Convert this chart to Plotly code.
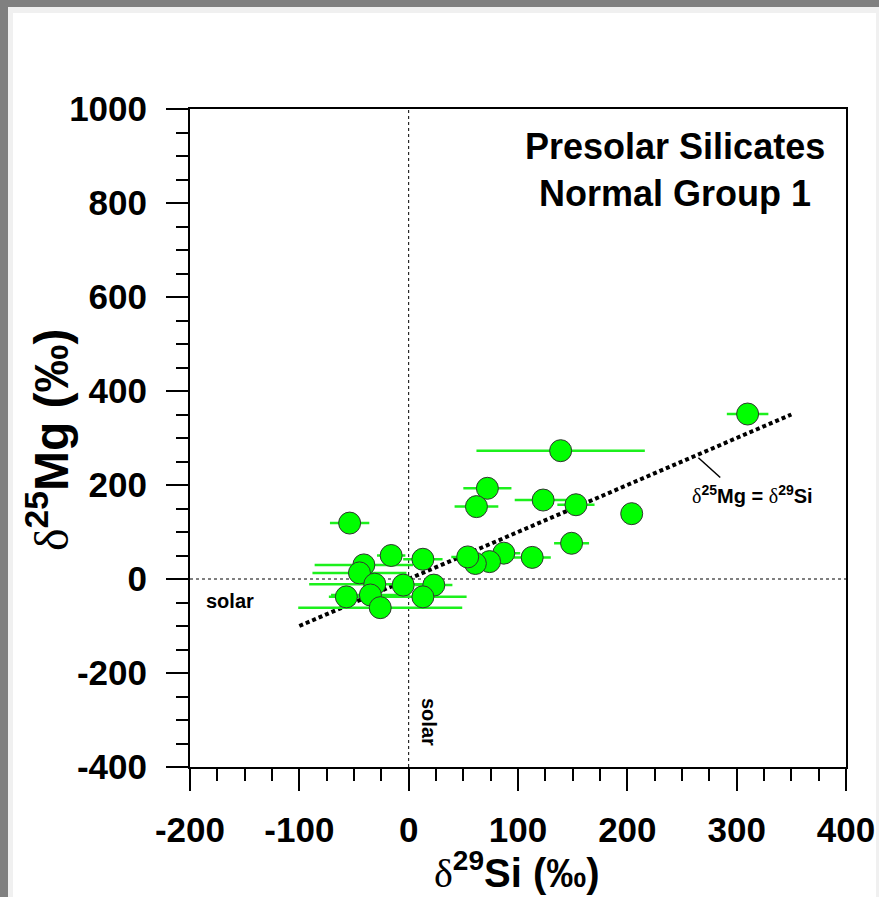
import plotly.graph_objects as go

# Presolar silicate grains, normal group 1 (per-mil deviations from solar)
si29 = [310, 139, 72, 62, 123, 153, 204, 149, -54, 113, 87, 74, 61, 54,
        23, 13, -16, -41, -45, -31, -5, -57, -35, 13, -26]
mg25 = [351, 273, 193, 154, 168, 158, 139, 76, 119, 46, 55, 37, 33, 47,
        -13, 42, 50, 30, 13, -11, -13, -38, -34, -38, -61]
si29_err = [19, 77, 22, 20, 26, 17, 0, 16, 18, 17, 15, 12, 10, 15,
            17, 18, 13, 45, 43, 60, 10, 16, 36, 40, 75]

# 1:1 reference line
ref_x = [-100, 350]
ref_y = [-100, 350]

x_range = [-200, 400]
y_range = [-400, 1000]
x_ticks = [-200, -100, 0, 100, 200, 300, 400]
y_ticks = [-400, -200, 0, 200, 400, 600, 800, 1000]

W, H = 879, 897
L, R, T, B = 190, 846, 109, 767
SANS = "Arial, 'Liberation Sans', sans-serif"
SERIF = "'Liberation Serif', 'Times New Roman', serif"


def delta(mass, elem):
    return (f'<span style="font-family:{SERIF};font-weight:normal">δ</span>'
            f"<sup>{mass}</sup>{elem}")


fig = go.Figure()

fig.add_trace(go.Scatter(
    x=ref_x, y=ref_y, mode="lines",
    line=dict(color="black", width=4, dash="4px,3px"),
    hoverinfo="skip", showlegend=False,
))

fig.add_trace(go.Scatter(
    x=si29, y=mg25, mode="markers",
    error_x=dict(type="data", array=si29_err, visible=True,
                 color="#1cf01c", thickness=2.5, width=0),
    marker=dict(size=22, color="#00ff00",
                line=dict(color="#333333", width=1)),
    showlegend=False,
))

# solar reference lines
fig.add_shape(type="line", xref="x", yref="y", x0=x_range[0], x1=x_range[1],
              y0=0, y1=0, line=dict(color="black", width=1, dash="dot"),
              layer="below")
fig.add_shape(type="line", xref="x", yref="y", x0=0, x1=0,
              y0=y_range[0], y1=y_range[1],
              line=dict(color="black", width=1, dash="dot"), layer="below")

# leader line for the 1:1 label
fig.add_shape(type="line", xref="x", yref="y", x0=265, y0=258, x1=285, y1=216,
              line=dict(color="black", width=1.5))


def px_x(p):
    return (p - L) / (R - L)


def px_y(p):
    return (B - p) / (B - T)


# window frame around the figure
frame = [
    (0, W, 0, 13, "#f0f0f0"),
    (0, 13, 0, H, "#f0f0f0"),
    (876, W, 0, H, "#f0f0f0"),
    (0, W, 0, 7, "#808080"),
    (0, 8, 0, H, "#808080"),
]
for x0, x1, y0, y1, c in frame:
    fig.add_shape(type="rect", xref="paper", yref="paper",
                  x0=px_x(x0), x1=px_x(x1), y0=px_y(y0), y1=px_y(y1),
                  fillcolor=c, line=dict(width=0), layer="above")

annotations = [
    dict(text="Presolar Silicates<br>Normal Group 1", x=px_x(675), y=px_y(170),
         font=dict(size=36, family=SANS, weight="bold", color="black")),
    dict(text=f"{delta(25, 'Mg')} = {delta(29, 'Si')}", x=px_x(752), y=px_y(495),
         font=dict(size=20, family=SANS, weight="bold", color="black")),
    dict(text="solar", x=px_x(230), y=px_y(601),
         font=dict(size=20, family=SANS, weight="bold", color="black")),
    dict(text="solar", x=px_x(429), y=px_y(722), textangle=90,
         font=dict(size=20, family=SANS, weight="bold", color="black")),
    dict(text=f"{delta(29, 'Si')} (‰)", x=px_x(517), y=px_y(870),
         font=dict(size=40, family=SANS, weight="bold", color="black")),
    dict(text=f"{delta(25, 'Mg')} (‰)", x=px_x(48), y=px_y(440), textangle=-90,
         font=dict(size=48, family=SANS, weight="bold", color="black")),
]
for a in annotations:
    a.update(xref="paper", yref="paper", showarrow=False,
             xanchor="center", yanchor="middle")

axis_common = dict(
    showline=True, linecolor="black", linewidth=2, mirror=True,
    showgrid=False, zeroline=False, automargin=False,
    ticks="outside", ticklen=22, tickwidth=2, tickcolor="black",
    tickfont=dict(size=35, family=SANS, weight="bold", color="black"),
)

fig.update_layout(
    width=W, height=H,
    margin=dict(l=L, r=W - R, t=T, b=H - B),
    paper_bgcolor="white", plot_bgcolor="white",
    annotations=annotations,
    xaxis=dict(range=x_range, tickvals=x_ticks,
               ticktext=[str(v) for v in x_ticks], ticklabelstandoff=9,
               minor=dict(dtick=25, tick0=0, ticks="outside", ticklen=12,
                          tickwidth=2, tickcolor="black"),
               **axis_common),
    yaxis=dict(range=y_range, tickvals=y_ticks,
               ticktext=[str(v) for v in y_ticks], ticklabelstandoff=12,
               minor=dict(dtick=50, tick0=0, ticks="outside", ticklen=12,
                          tickwidth=2, tickcolor="black"),
               **axis_common),
)

fig.write_html("out.html")
